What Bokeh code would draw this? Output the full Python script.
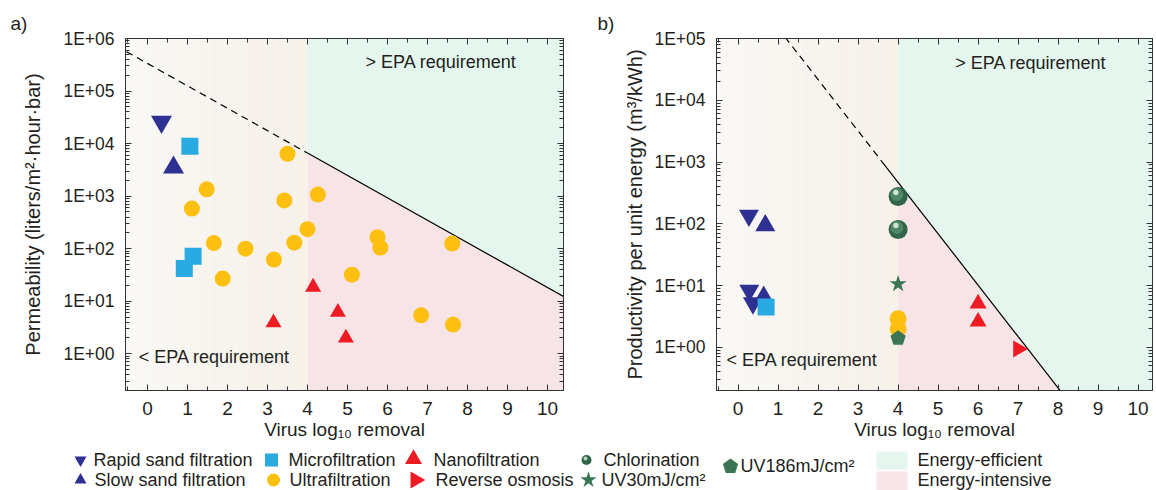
import numpy as np
from bokeh.plotting import figure
from bokeh.layouts import row, column
from bokeh.models import (Range1d, LinearAxis, LogAxis, SingleIntervalTicker, LogTicker,
                          CustomJSTickFormatter, Title)
from bokeh.core.properties import value
from bokeh.embed import file_html
from bokeh.resources import INLINE

FONT = "Liberation Sans"
INK = "#231f20"

# ---------------- data: panel a (permeability) ----------------
rapid_a_x = [0.35]
rapid_a_y = [2.6e4]
slow_a_x = [0.65]
slow_a_y = [3.5e3]
micro_a_x = [1.06, 1.14, 0.92]
micro_a_y = [8.9e3, 72, 42]
ultra_a_x = [1.11, 1.48, 3.42, 3.50, 4.26, 4.00, 3.67, 5.75, 5.82, 1.66, 1.88, 2.45, 3.16, 5.11, 6.84, 7.64, 7.62]
ultra_a_y = [580, 1350, 830, 6400, 1070, 235, 130, 165, 105, 128, 27, 100, 62, 32, 5.4, 3.6, 125]
nano_a_x = [3.15, 4.14, 4.76, 4.96]
nano_a_y = [3.9, 18.6, 6.2, 2.0]

# ---------------- data: panel b (productivity per energy) ----------------
rapid_b_x = [0.27, 0.28, 0.37]
rapid_b_y = [136, 8.3, 5.2]
slow_b_x = [0.68, 0.64]
slow_b_y = [94, 6.5]
micro_b_x = [0.70]
micro_b_y = [4.5]
ultra_b_x = [4.0, 4.0]
ultra_b_y = [2.9, 2.0]
nano_b_x = [6.0, 6.0]
nano_b_y = [5.1, 2.6]
ro_b_x = [7.0]
ro_b_y = [0.94]
chlor_b_x = [4.0, 4.0]
chlor_b_y = [277, 81]
uv30_b_x = [4.0]
uv30_b_y = [10.6]
uv186_b_x = [4.0]
uv186_b_y = [1.4]

# EPA threshold lines (two anchor points each, log-linear)
line_a_x = [-0.55, 10.4]
line_a_y = [5.75e5, 12.3]
line_b_x = [1.2, 8.05]
line_b_y = [1.0e5, 0.2]
epa_x = 4.0
dash_end_b = 3.6

C_NAVY = "#2e3192"
C_MICRO = "#29abe2"
C_ULTRA = "#fdc010"
C_RED = "#ed1c24"
C_GREEN = "#3b7553"
C_EFF = "#e5f6ee"
C_INT = "#f7e4e6"


def log_line(xa, ya):
    l0, l1 = np.log10(ya[0]), np.log10(ya[1])
    s = (l1 - l0) / (xa[1] - xa[0])
    return lambda x: 10 ** (l0 + s * (np.asarray(x, dtype=float) - xa[0]))


EXP_FMT = """
const e = Math.round(Math.log10(tick));
const a = Math.abs(e);
return "1E" + (e < 0 ? "-" : "+") + (a < 10 ? "0" : "") + a;
"""


def make_panel(xr, yr, borders, ylabel, ylabel_standoff, line_x, line_y, dash_end, tag, tag_x):
    left, right, top, bottom = borders
    p = figure(width=578, height=448, x_range=Range1d(*xr), y_range=Range1d(*yr),
               y_axis_type="log", toolbar_location=None, output_backend="svg",
               min_border_left=left, min_border_right=right, min_border_top=top,
               min_border_bottom=bottom, background_fill_color="white",
               border_fill_color="white", outline_line_color="#333333",
               title=Title(text=tag, align="left", offset=-(left - tag_x),
                           text_font=FONT, text_font_size="19px", text_font_style="normal",
                           text_color=INK, standoff=9))
    p.grid.visible = False
    f = log_line(line_x, line_y)
    bx = p.below[0]
    ly_ax = p.left[0]

    # beige gradient region (x < 4)
    n = 16
    edges = np.linspace(xr[0] - 0.3, epa_x, n + 1)
    c0 = np.array([249, 248, 245])
    c1 = np.array([246, 241, 233])
    cols = ["#%02x%02x%02x" % tuple(np.round(c0 + (c1 - c0) * t).astype(int))
            for t in np.linspace(0, 1, n)]
    p.quad(left=edges[:-1], right=edges[1:], bottom=1e-5, top=1e8,
           fill_color=cols, line_color=None)
    xe = xr[1] + 1.0
    ly = f([epa_x, xe])
    p.patch([epa_x, xe, xe, epa_x], [ly[0], ly[1], 1e8, 1e8], fill_color=C_EFF, line_color=None)
    p.patch([epa_x, xe, xe, epa_x], [1e-5, 1e-5, ly[1], ly[0]], fill_color=C_INT, line_color=None)

    xd = np.array([xr[0] - 0.5, dash_end])
    p.line(xd, f(xd), line_color="black", line_width=1.2, line_dash="7 5")
    xs = np.array([dash_end, xe])
    p.line(xs, f(xs), line_color="black", line_width=1.2)

    # axes
    bx.ticker = SingleIntervalTicker(interval=1, num_minor_ticks=2)
    ly_ax.ticker = LogTicker(num_minor_ticks=10)
    ly_ax.formatter = CustomJSTickFormatter(code=EXP_FMT)
    bx.axis_label = "Virus log\u2081\u2080 removal"
    ly_ax.axis_label = ylabel
    top_ax = LinearAxis(ticker=SingleIntervalTicker(interval=1, num_minor_ticks=2),
                        formatter=CustomJSTickFormatter(code="return ''"))
    right_ax = LogAxis(ticker=LogTicker(num_minor_ticks=10),
                       formatter=CustomJSTickFormatter(code="return ''"))
    p.add_layout(top_ax, "above")
    p.add_layout(right_ax, "right")
    for ax in [bx, ly_ax, top_ax, right_ax]:
        ax.axis_line_color = "#333333"
        ax.axis_line_width = 1
        ax.major_tick_line_color = "#333333"
        ax.minor_tick_line_color = "#333333"
        ax.major_tick_in = 6
        ax.major_tick_out = 0
        ax.minor_tick_in = 4
        ax.minor_tick_out = 0
        ax.major_label_text_font = FONT
        ax.major_label_text_font_size = "17px"
        ax.major_label_text_color = INK
        ax.axis_label_text_font = FONT
        ax.axis_label_text_font_style = "normal"
        ax.axis_label_text_color = INK
    for ax in [top_ax, right_ax]:
        ax.major_label_text_font_size = "0px"
        ax.major_label_standoff = 0
    bx.major_label_standoff = 11
    bx.major_label_text_font_size = "19px"
    bx.axis_label_text_font_size = "19px"
    bx.axis_label_standoff = 1
    ly_ax.major_label_standoff = 11
    ly_ax.major_label_text_font_size = "17.5px"
    ly_ax.axis_label_text_font_size = "20px"
    ly_ax.axis_label_standoff = ylabel_standoff
    return p, f


def sphere(p, xs, ys, size, ppu, ppd):
    xs = np.asarray(xs, float)
    ys = np.asarray(ys, float)
    p.scatter(xs, ys, marker="circle", size=size, fill_color="#2f6548", line_color=None)
    p.scatter(xs - 1.2 / ppu, ys * 10 ** (2.0 / ppd), marker="circle", size=size * 0.68,
              fill_color="#4f8768", line_color=None)
    p.scatter(xs - 2.2 / ppu, ys * 10 ** (4.0 / ppd), marker="circle", size=size * 0.28,
              fill_color="#d2e3d8", line_color=None)


def pentagon_xy(xc, yc, r, ppu, ppd):
    ang = np.deg2rad(90 + 72 * np.arange(5))
    return list(xc + r * np.cos(ang) / ppu), list(yc * 10 ** (r * np.sin(ang) / ppd))


# ---------------- panel a ----------------
xr_a = (-0.55, 10.4)
yr_a = (0.2, 1e6)
pa, fa = make_panel(xr_a, yr_a, (125, 15, 38, 58), "Permeability (liters/m\u00b2\u00b7hour\u00b7bar)", 16,
                    line_a_x, line_a_y, epa_x, "a)", 10)
pa.scatter(ultra_a_x, ultra_a_y, marker="circle", size=16, fill_color=C_ULTRA, line_color=None)
pa.scatter(rapid_a_x, rapid_a_y, marker="inverted_triangle", size=21, fill_color=C_NAVY, line_color=None)
pa.scatter(slow_a_x, slow_a_y, marker="triangle", size=21, fill_color=C_NAVY, line_color=None)
pa.scatter(micro_a_x, micro_a_y, marker="square", size=17, fill_color=C_MICRO, line_color=None)
pa.scatter(nano_a_x, nano_a_y, marker="triangle", size=16, fill_color=C_RED, line_color=None)
txt = dict(text_font=value(FONT), text_font_size="18px", text_color=INK, text_baseline="middle")
pa.text(x=[5.45], y=[3.5e5], text=["> EPA requirement"], **txt)
pa.text(x=[-0.22], y=[0.86], text=["< EPA requirement"], **txt)

# ---------------- panel b ----------------
xr_b = (-0.54, 10.36)
yr_b = (0.2, 1e5)
pb, fb = make_panel(xr_b, yr_b, (138, 4, 38, 56), "Productivity per unit energy (m\u00b3/kWh)", 5,
                    line_b_x, line_b_y, dash_end_b, "b)", 19)
ppu_b = 436 / (xr_b[1] - xr_b[0])
ppd_b = 354 / (np.log10(yr_b[1]) - np.log10(yr_b[0]))
pb.scatter(ultra_b_x, ultra_b_y, marker="circle", size=17, fill_color=C_ULTRA, line_color=None)
pb.scatter(rapid_b_x, rapid_b_y, marker="inverted_triangle", size=20, fill_color=C_NAVY, line_color=None)
pb.scatter(slow_b_x, slow_b_y, marker="triangle", size=20, fill_color=C_NAVY, line_color=None)
pb.scatter(micro_b_x, micro_b_y, marker="square", size=17, fill_color=C_MICRO, line_color=None)
pb.scatter(nano_b_x, nano_b_y, marker="triangle", size=17, fill_color=C_RED, line_color=None)
pb.scatter(ro_b_x, ro_b_y, marker="triangle", size=17, angle=-np.pi / 2, fill_color=C_RED, line_color=None)
sphere(pb, chlor_b_x, chlor_b_y, 19, ppu_b, ppd_b)
pb.scatter(uv30_b_x, uv30_b_y, marker="star", size=18, fill_color=C_GREEN, line_color=None)
pxs, pys = [], []
for xc, yc in zip(uv186_b_x, uv186_b_y):
    a, b = pentagon_xy(xc, yc, 8.0, ppu_b, ppd_b)
    pxs.append(a)
    pys.append(b)
pb.patches(pxs, pys, fill_color=C_GREEN, line_color=None)
pb.text(x=[5.43], y=[4.0e4], text=["> EPA requirement"], **txt)
pb.text(x=[-0.29], y=[0.62], text=["< EPA requirement"], **txt)

# ---------------- legend strip ----------------
leg = figure(width=1156, height=42, x_range=Range1d(0, 1156), y_range=Range1d(42, 0),
             toolbar_location=None, output_backend="svg", x_axis_location=None,
             y_axis_location=None, min_border=0, outline_line_color=None,
             background_fill_color="white", border_fill_color="white")
leg.grid.visible = False
r1, r2, rm = 11.5, 31.5, 17
leg.scatter([80], [r1], marker="inverted_triangle", size=12, fill_color=C_NAVY, line_color=None)
leg.scatter([80], [r2], marker="triangle", size=12, fill_color=C_NAVY, line_color=None)
leg.scatter([271], [r1], marker="square", size=13, fill_color=C_MICRO, line_color=None)
leg.scatter([273], [r2], marker="circle", size=13, fill_color=C_ULTRA, line_color=None)
leg.scatter([413], [r1 - 1], marker="triangle", size=17, fill_color=C_RED, line_color=None)
leg.scatter([415], [r2], marker="triangle", size=17, angle=-np.pi / 2, fill_color=C_RED, line_color=None)
leg.scatter([586], [r1], marker="circle", size=10, fill_color="#2f6548", line_color=None)
leg.scatter([585], [r1 - 1.5], marker="circle", size=4, fill_color="#bcd5c6", line_color=None)
leg.scatter([588], [r2], marker="star", size=17, fill_color=C_GREEN, line_color=None)
ang = np.deg2rad(90 + 72 * np.arange(5))
leg.patch(list(730 + 8 * np.cos(ang)), list(rm + 1 - 8 * np.sin(ang)), fill_color=C_GREEN, line_color=None)
leg.quad(left=[876, 876], right=[907, 907], top=[3, 23], bottom=[21, 42],
         fill_color=[C_EFF, C_INT], line_color=None)
leg_txt = dict(text_font=value(FONT), text_font_size="18px", text_color=INK, text_baseline="middle")
leg.text(x=[93, 288, 433, 603, 917], y=[r1] * 5,
         text=["Rapid sand filtration", "Microfiltration", "Nanofiltration", "Chlorination", "Energy-efficient"],
         **leg_txt)
leg.text(x=[94, 289, 435, 601, 917], y=[r2] * 5,
         text=["Slow sand filtration", "Ultrafiltration", "Reverse osmosis", "UV30mJ/cm\u00b2", "Energy-intensive"],
         **leg_txt)
leg.text(x=[740], y=[rm], text=["UV186mJ/cm\u00b2"], **leg_txt)

layout = column(row(pa, pb), leg)
open("out.html", "w").write(file_html(layout, INLINE))
